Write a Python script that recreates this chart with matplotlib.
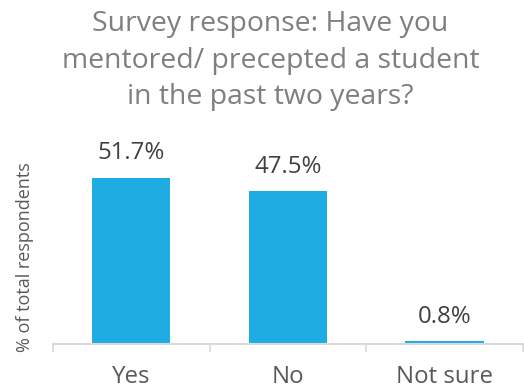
import numpy as np
import matplotlib
matplotlib.use('Agg')
import matplotlib.pyplot as plt

categories = ['Yes', 'No', 'Not sure']
values = [51.7, 47.5, 0.8]
value_labels = ['51.7%', '47.5%', '0.8%']
title = 'Survey response: Have you\nmentored/ precepted a student\nin the past two years?'

plt.rcParams['font.family'] = ['Open Sans', 'DejaVu Sans']

fig = plt.figure(figsize=(5.24, 3.92), dpi=100)
ax = fig.add_axes([0.101, 0.1224, 0.897, 0.4949])

x = np.arange(len(categories))
bars = ax.bar(x, values, width=0.5, color='#1FACE3', zorder=1)
ax.set_xlim(-0.5, len(categories) - 0.5)
ax.set_ylim(0, 60.4)

for b, lab in zip(bars, value_labels):
    ax.annotate(lab, (b.get_x() + b.get_width() / 2, b.get_height()),
                xytext=(0, 9), textcoords='offset points',
                ha='center', va='bottom', fontsize=17.3, color='#404040')

# category labels, ticks between categories
ax.set_xticks(x)
ax.set_xticklabels(categories, fontsize=17.3, color='#595959')
ax.tick_params(axis='x', which='major', length=0, pad=15)
ax.set_xticks(np.arange(-0.5, len(categories)), minor=True)
ax.tick_params(axis='x', which='minor', length=6, width=1.2, color='#d9d9d9')

ax.set_yticks([])
for s in ['top', 'right', 'left']:
    ax.spines[s].set_visible(False)
ax.spines['bottom'].set_color('#d9d9d9')
ax.spines['bottom'].set_linewidth(1.5)
ax.spines['bottom'].set_zorder(3)

ax.set_ylabel('% of total respondents', fontsize=13.0, color='#595959')
ax.yaxis.set_label_coords(-0.04, 0.45)

fig.text(0.516, 0.975, title, ha='center', va='top', fontsize=20.4,
         color='#7f7f7f', linespacing=1.42)

fig.savefig('out.png', dpi=100)
